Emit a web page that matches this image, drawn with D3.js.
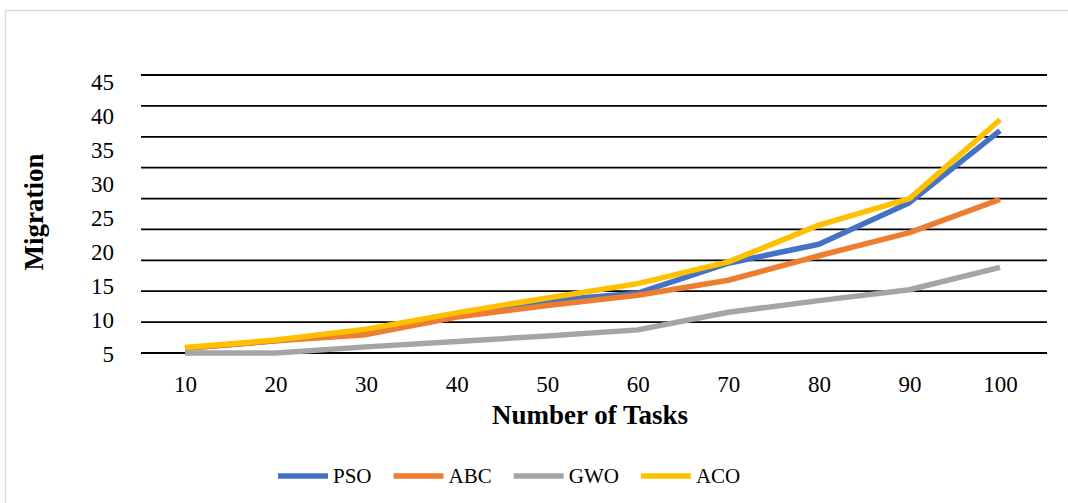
<!DOCTYPE html>
<html>
<head>
<meta charset="utf-8">
<script src="https://cdn.jsdelivr.net/npm/d3@7"></script>
<style>
  html, body { margin: 0; padding: 0; background: #fff; }
  svg { display: block; }
  text { font-family: "Liberation Serif", "Times New Roman", serif; fill: #000; }
</style>
</head>
<body>
<svg id="chart" width="1068" height="503"></svg>
<script>
// ---- data ----
const categories = ["10", "20", "30", "40", "50", "60", "70", "80", "90", "100"];
const seriesNames = ["PSO", "ABC", "GWO", "ACO"];
const pso = [5.7, 6.8, 8.2, 10.6, 12.7, 13.8, 18.2, 21.0, 27.1, 37.7];
const abc = [5.7, 6.8, 7.7, 10.3, 12.0, 13.5, 15.7, 19.3, 22.7, 27.6];
const gwo = [5.0, 5.0, 5.9, 6.7, 7.5, 8.4, 11.0, 12.7, 14.3, 17.6];
const aco = [5.8, 6.9, 8.5, 10.9, 13.1, 15.2, 18.4, 23.8, 27.7, 39.3];
const yTickLabels = [5, 10, 15, 20, 25, 30, 35, 40, 45];
const gridValues = [0, 5, 10, 15, 20, 25, 30, 35, 40, 45];
const colors = ["#4472C4", "#ED7D31", "#A5A5A5", "#FFC000"];

const seriesData = [pso, abc, gwo, aco];

const svg = d3.select("#chart");

// border
svg.append("rect")
  .attr("x", 5.5).attr("y", 10.5)
  .attr("width", 1080).attr("height", 520)
  .attr("fill", "none").attr("stroke", "#d9d9d9").attr("stroke-width", 1.5);

// scales
const x = d3.scalePoint().domain(categories).range([185, 1000]);
const y = d3.scaleLinear().domain([5, 45]).range([353, 81]);
const yGrid = d3.scaleLinear().domain([0, 45]).range([353, 75]);

// gridlines
svg.append("g").selectAll("line")
  .data(gridValues)
  .join("line")
  .attr("x1", 141).attr("x2", 1047)
  .attr("y1", d => yGrid(d)).attr("y2", d => yGrid(d))
  .attr("stroke", "#000").attr("stroke-width", 1.8);

// y axis labels
const yAxis = d3.axisLeft(y).tickValues(yTickLabels).tickSize(0).tickPadding(0);
const gy = svg.append("g").attr("transform", "translate(114,0)").call(yAxis);
gy.select(".domain").remove();
gy.selectAll("text")
  .style("font-family", "'Liberation Serif', 'Times New Roman', serif")
  .style("font-size", "23px").attr("fill", "#000").attr("dy", "0.35em");

// x axis labels
const xAxis = d3.axisBottom(x).tickSize(0).tickPadding(0);
const gx = svg.append("g").attr("transform", "translate(0,375)").call(xAxis);
gx.select(".domain").remove();
gx.selectAll("text")
  .style("font-family", "'Liberation Serif', 'Times New Roman', serif")
  .style("font-size", "23px").attr("fill", "#000").attr("dy", "0.72em");

// lines
const line = d3.line()
  .x((d, i) => x(categories[i]))
  .y(d => y(d));

svg.append("g").selectAll("path")
  .data(seriesData)
  .join("path")
  .attr("d", d => line(d))
  .attr("fill", "none")
  .attr("stroke", (d, i) => colors[i])
  .attr("stroke-width", 5.5)
  .attr("stroke-linejoin", "round")
  .attr("stroke-linecap", "butt");

// axis titles
svg.append("text")
  .attr("x", 590).attr("y", 424)
  .attr("text-anchor", "middle")
  .style("font-size", "27px").style("font-weight", "bold")
  .text("Number of Tasks");

svg.append("text")
  .attr("transform", "translate(43,212) rotate(-90)")
  .attr("text-anchor", "middle")
  .style("font-size", "27px").style("font-weight", "bold")
  .text("Migration");

// legend
const legend = svg.append("g");
let lx = 278;
const ly = 476;
seriesNames.forEach((name, i) => {
  const g = legend.append("g");
  g.append("line")
    .attr("x1", lx).attr("x2", lx + 50)
    .attr("y1", ly).attr("y2", ly)
    .attr("stroke", colors[i]).attr("stroke-width", 5.5);
  const t = g.append("text")
    .attr("x", lx + 55).attr("y", ly)
    .attr("dy", "0.35em")
    .style("font-size", "21px")
    .text(name);
  const w = t.node().getComputedTextLength();
  lx = lx + 55 + w + 22;
});
</script>
</body>
</html>
